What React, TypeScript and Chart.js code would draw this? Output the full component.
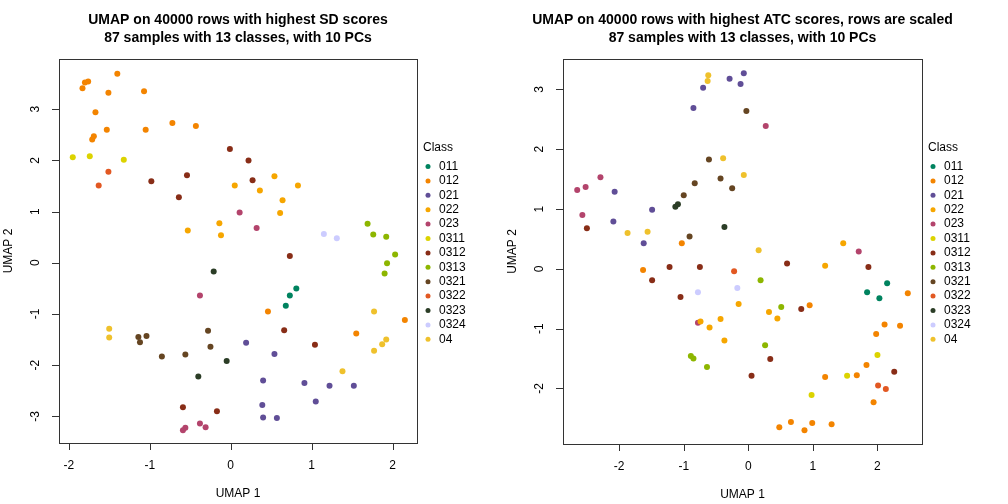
import React, { useEffect, useRef } from 'react';
import { Chart, registerables } from 'chart.js';
Chart.register(...registerables);

const CLASSES = ['011', '012', '021', '022', '023', '0311', '0312', '0313', '0321', '0322', '0323', '0324', '04'];
const COLORS = ['#00835F', '#F38400', '#604E97', '#F6A600', '#B3446C', '#DCD300', '#882D17', '#8DB600', '#654522', '#E25822', '#2B3D26', '#CCCCFF', '#EFC12C'];

const TITLE_SD = ['UMAP on 40000 rows with highest SD scores', '87 samples with 13 classes, with 10 PCs'];
const TITLE_ATC = ['UMAP on 40000 rows with highest ATC scores, rows are scaled', '87 samples with 13 classes, with 10 PCs'];

const X_TICKS = [-2, -1, 0, 1, 2];
const Y_TICKS_SD = [-3, -2, -1, 0, 1, 2, 3];
const Y_TICKS_ATC = [-2, -1, 0, 1, 2, 3];

// Panel 1: highest SD scores
const SD_011 = [[0.81, -0.5], [0.73, -0.64], [0.68, -0.84]];
const SD_012 = [[-1.83, 3.41], [-1.8, 3.52], [-1.76, 3.54], [-1.4, 3.69], [-1.51, 3.32], [-1.07, 3.35], [-1.67, 2.94], [-1.53, 2.6], [-1.69, 2.47], [-1.71, 2.41], [-1.05, 2.6], [-0.72, 2.73], [-0.43, 2.67], [0.46, -0.95], [1.55, -1.38], [2.15, -1.12]];
const SD_021 = [[0.19, -1.56], [0.54, -1.78], [0.4, -2.3], [0.91, -2.35], [1.22, -2.4], [1.52, -2.4], [1.05, -2.71], [0.39, -2.78], [0.4, -3.02], [0.57, -3.03]];
const SD_022 = [[0.05, 1.51], [0.54, 1.69], [0.36, 1.41], [0.83, 1.51], [0.64, 1.22], [0.61, 0.97], [-0.14, 0.77], [-0.12, 0.54], [-0.53, 0.63]];
const SD_023 = [[0.11, 0.98], [0.32, 0.68], [-0.38, -0.64], [-0.38, -3.14], [-0.31, -3.21], [-0.56, -3.22], [-0.59, -3.27]];
const SD_0311 = [[-1.95, 2.06], [-1.74, 2.08], [-1.32, 2.01]];
const SD_0312 = [[-0.98, 1.59], [-0.54, 1.71], [-0.64, 1.28], [-0.01, 2.22], [0.22, 2.0], [0.27, 1.61], [0.73, 0.13], [0.66, -1.32], [1.04, -1.6], [-0.59, -2.82], [-0.17, -2.9]];
const SD_0313 = [[1.69, 0.76], [1.76, 0.55], [1.92, 0.51], [2.03, 0.16], [1.93, -0.01], [1.9, -0.21]];
const SD_0321 = [[-1.14, -1.45], [-1.12, -1.55], [-1.04, -1.43], [-0.85, -1.83], [-0.56, -1.79], [-0.28, -1.33], [-0.25, -1.64]];
const SD_0322 = [[-1.51, 1.78], [-1.63, 1.51]];
const SD_0323 = [[-0.21, -0.17], [-0.05, -1.92], [-0.4, -2.22]];
const SD_0324 = [[1.15, 0.56], [1.31, 0.48]];
const SD_04 = [[-1.5, -1.29], [-1.5, -1.46], [1.77, -0.95], [1.92, -1.5], [1.87, -1.59], [1.77, -1.72], [1.38, -2.12]];

// Panel 2: highest ATC scores, rows scaled
const ATC_011 = [[1.84, -0.39], [2.03, -0.49], [2.15, -0.24]];
const ATC_012 = [[-1.03, 0.43], [-1.63, -0.02], [0.95, -0.61], [2.47, -0.41], [2.11, -0.93], [2.35, -0.95], [1.98, -1.09], [1.83, -1.61], [1.19, -1.81], [1.68, -1.78], [1.94, -2.23], [0.48, -2.65], [0.66, -2.56], [0.87, -2.7], [0.99, -2.58], [1.29, -2.6]];
const ATC_021 = [[-0.7, 3.03], [-0.29, 3.18], [-0.12, 3.09], [-0.07, 3.27], [-0.85, 2.69], [-2.07, 1.29], [-2.09, 0.79], [-1.49, 0.99], [-1.62, 0.43]];
const ATC_022 = [[1.47, 0.43], [1.19, 0.05], [-0.15, -0.59], [0.32, -0.72], [0.45, -0.83], [-0.43, -0.84], [-0.74, -0.88], [-0.6, -0.98], [-0.37, -1.2]];
const ATC_023 = [[0.27, 2.39], [-2.65, 1.32], [-2.52, 1.37], [-2.29, 1.53], [-2.57, 0.9], [1.71, 0.29], [-0.78, -0.9]];
const ATC_0311 = [[2.0, -1.44], [1.53, -1.79], [0.98, -2.11]];
const ATC_0312 = [[-2.5, 0.68], [-1.22, 0.03], [-0.75, 0.03], [0.6, 0.09], [1.86, 0.03], [-1.49, -0.19], [-1.05, -0.47], [0.82, -0.67], [0.34, -1.51], [0.05, -1.79], [2.26, -1.72]];
const ATC_0313 = [[0.19, -0.19], [0.51, -0.64], [0.26, -1.28], [-0.89, -1.46], [-0.85, -1.5], [-0.64, -1.64]];
const ATC_0321 = [[-0.03, 2.64], [-0.61, 1.83], [-0.43, 1.51], [-0.83, 1.43], [-0.25, 1.35], [-1.0, 1.23], [-0.91, 0.54]];
const ATC_0322 = [[-0.22, -0.04], [2.01, -1.95], [2.13, -2.01]];
const ATC_0323 = [[-1.13, 1.04], [-1.09, 1.08], [-0.37, 0.7]];
const ATC_0324 = [[-0.78, -0.39], [-0.17, -0.32]];
const ATC_04 = [[-0.62, 3.24], [-0.63, 3.14], [-0.39, 1.85], [-0.07, 1.57], [-1.87, 0.6], [-1.56, 0.62], [0.16, 0.31]];

const SD_SERIES = [SD_011, SD_012, SD_021, SD_022, SD_023, SD_0311, SD_0312, SD_0313, SD_0321, SD_0322, SD_0323, SD_0324, SD_04];
const ATC_SERIES = [ATC_011, ATC_012, ATC_021, ATC_022, ATC_023, ATC_0311, ATC_0312, ATC_0313, ATC_0321, ATC_0322, ATC_0323, ATC_0324, ATC_04];

const FONT = '"Liberation Sans", Arial, Helvetica, sans-serif';

type PanelProps = {
  series: number[][][];
  title: string[];
  xRange: [number, number];
  yRange: [number, number];
  yTicks: number[];
  padding: { left: number; right: number; top: number; bottom: number };
};

function makePlugin(props: PanelProps) {
  return {
    id: 'rstyle',
    afterDraw(chart: any) {
      const ctx: CanvasRenderingContext2D = chart.ctx;
      const a = chart.chartArea;
      const xs = chart.scales.x;
      const ys = chart.scales.y;
      ctx.save();
      // box
      ctx.strokeStyle = '#333';
      ctx.lineWidth = 1;
      ctx.strokeRect(Math.round(a.left) + 0.5, Math.round(a.top) + 0.5, Math.round(a.right - a.left), Math.round(a.bottom - a.top));
      ctx.fillStyle = '#000';
      ctx.font = `12px ${FONT}`;
      // x ticks
      ctx.beginPath();
      X_TICKS.forEach((t) => {
        const px = Math.round(xs.getPixelForValue(t)) + 0.5;
        ctx.moveTo(px, a.bottom);
        ctx.lineTo(px, a.bottom + 7);
      });
      // y ticks
      props.yTicks.forEach((t) => {
        const py = Math.round(ys.getPixelForValue(t)) + 0.5;
        ctx.moveTo(a.left, py);
        ctx.lineTo(a.left - 7, py);
      });
      ctx.stroke();
      ctx.textAlign = 'center';
      ctx.textBaseline = 'middle';
      X_TICKS.forEach((t) => {
        ctx.fillText(String(t), xs.getPixelForValue(t), a.bottom + 23);
      });
      props.yTicks.forEach((t) => {
        ctx.save();
        ctx.translate(a.left - 23, ys.getPixelForValue(t));
        ctx.rotate(-Math.PI / 2);
        ctx.fillText(String(t), 0, 0);
        ctx.restore();
      });
      // axis titles
      ctx.fillText('UMAP 1', (a.left + a.right) / 2, a.bottom + 51);
      ctx.save();
      ctx.translate(a.left - 50, (a.top + a.bottom) / 2);
      ctx.rotate(-Math.PI / 2);
      ctx.fillText('UMAP 2', 0, 0);
      ctx.restore();
      // main title
      ctx.font = `bold 14px ${FONT}`;
      const cx = (a.left + a.right) / 2;
      ctx.fillText(props.title[0], cx, 20);
      ctx.fillText(props.title[1], cx, 38);
      // legend
      ctx.font = `12px ${FONT}`;
      ctx.textAlign = 'left';
      ctx.fillText('Class', a.right + 6, 147.5);
      CLASSES.forEach((c, i) => {
        const y = 166.5 + i * 14.4;
        ctx.fillStyle = COLORS[i];
        ctx.beginPath();
        ctx.arc(a.right + 11, y, 2.5, 0, Math.PI * 2);
        ctx.fill();
        ctx.fillStyle = '#000';
        ctx.fillText(c, a.right + 22, y);
      });
      ctx.restore();
    },
  };
}

function Panel(props: PanelProps) {
  const ref = useRef<HTMLCanvasElement>(null);
  useEffect(() => {
    if (!ref.current) return;
    const chart = new Chart(ref.current, {
      type: 'scatter',
      data: {
        datasets: props.series.map((pts, i) => ({
          label: CLASSES[i],
          data: pts.map((p) => ({ x: p[0], y: p[1] })),
          backgroundColor: COLORS[i],
          borderColor: COLORS[i],
          pointRadius: 3,
          pointBorderWidth: 0,
          pointHoverRadius: 3,
        })),
      },
      options: {
        responsive: false,
        animation: false,
        devicePixelRatio: 1,
        layout: { padding: props.padding },
        plugins: { legend: { display: false }, tooltip: { enabled: false }, title: { display: false } },
        scales: {
          x: { type: 'linear', display: false, min: props.xRange[0], max: props.xRange[1] },
          y: { type: 'linear', display: false, min: props.yRange[0], max: props.yRange[1] },
        },
      },
      plugins: [makePlugin(props)],
    } as any);
    return () => chart.destroy();
  }, []);
  return <canvas ref={ref} width={504} height={504} style={{ display: 'block', width: 504, height: 504 }} />;
}

export default function App() {
  useEffect(() => {
    document.body.style.margin = '0';
    document.body.style.background = '#fff';
  }, []);
  return (
    <div style={{ display: 'flex', width: 1008, height: 504, background: '#fff' }}>
      <Panel
        series={SD_SERIES}
        title={TITLE_SD}
        xRange={[-2.12, 2.3]}
        yRange={[-3.52, 3.98]}
        yTicks={Y_TICKS_SD}
        padding={{ left: 59, right: 87, top: 59, bottom: 61 }}
      />
      <Panel
        series={ATC_SERIES}
        title={TITLE_ATC}
        xRange={[-2.87, 2.69]}
        yRange={[-2.93, 3.51]}
        yTicks={Y_TICKS_ATC}
        padding={{ left: 59, right: 86, top: 59, bottom: 60 }}
      />
    </div>
  );
}
